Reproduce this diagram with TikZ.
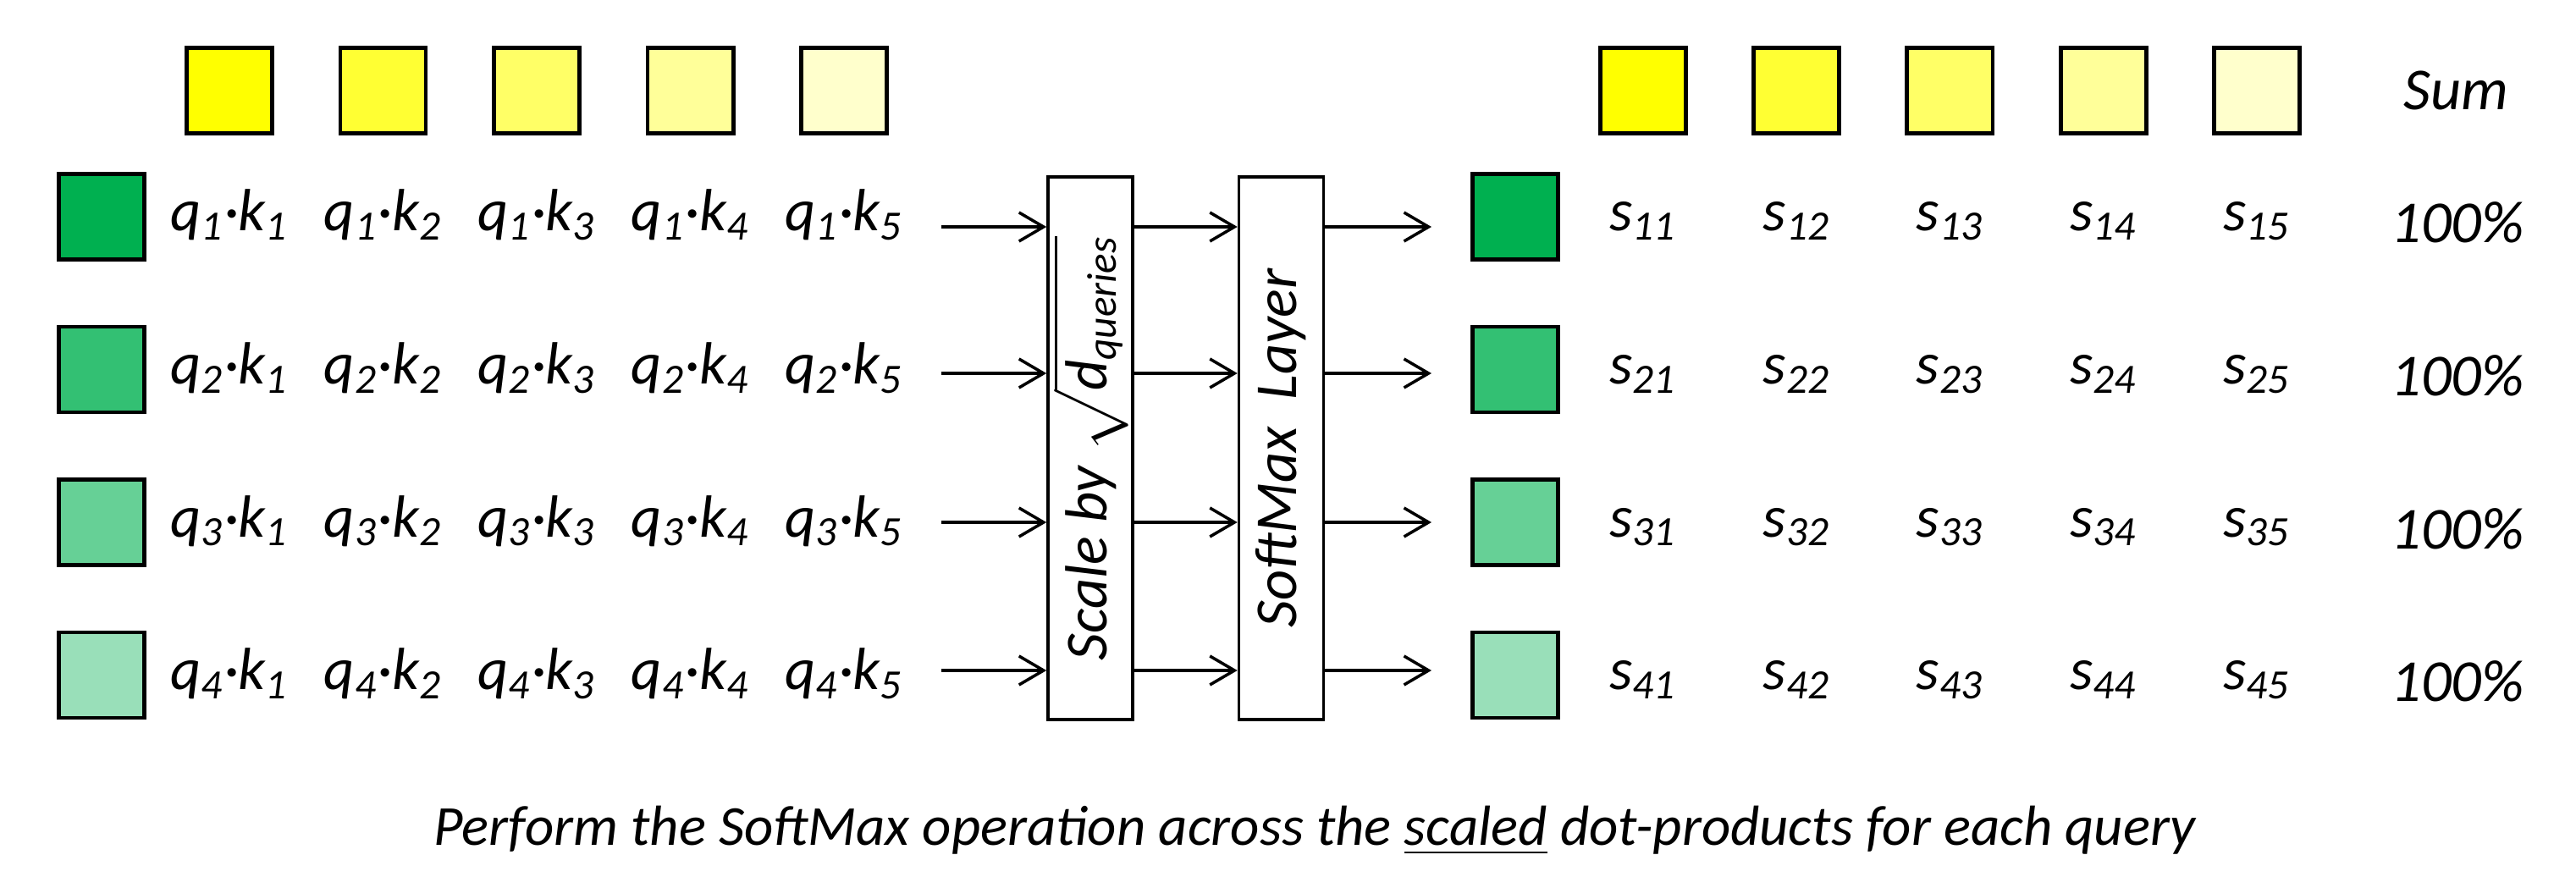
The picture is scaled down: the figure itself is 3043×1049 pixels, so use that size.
\documentclass[tikz,border=0pt]{standalone}
\usepackage{amsmath}
\usepackage{fontspec}
\setmainfont{Carlito}
\usepackage{tikz}
\usetikzlibrary{arrows.meta}
\usetikzlibrary{positioning}
\definecolor{grn1}{HTML}{00B050}
\definecolor{grn2}{HTML}{33C073}
\definecolor{grn3}{HTML}{66D096}
\definecolor{grn4}{HTML}{99DFB9}
\definecolor{yel1}{HTML}{FFFF00}
\definecolor{yel2}{HTML}{FFFF33}
\definecolor{yel3}{HTML}{FFFF66}
\definecolor{yel4}{HTML}{FFFF99}
\definecolor{yel5}{HTML}{FFFFCC}
\tikzset{
  cell/.style = {draw=black, line width=1.4pt, minimum size=1.01cm,
    inner sep=0pt},% case couleur
  lbl/.style = {font=\fontsize{20}{24}\selectfont\itshape, anchor=base,
    inner sep=0pt},% texte
  layer/.style = {draw=black, line width=1pt, minimum width=6.41cm,
    minimum height=1cm, inner sep=0pt, font=\fontsize{20}{24}\selectfont\itshape}% boite (tournee)
}

\begin{document}
\begin{tikzpicture}[x=0.01cm,y=-0.01cm,>={Straight Barb[length=0.29cm,width=0.34cm]},
  line width=1pt]
\useasboundingbox (0,0) rectangle (3043,1049);

% keys
\foreach \j/\c in {1/yel1,2/yel2,3/yel3,4/yel4,5/yel5}{
  \node [cell, fill=\c] (kl\j) at ({271+(\j-1)*181.5},107) {};
  \node [cell, fill=\c] (kr\j) at ({1941+(\j-1)*181.2},107) {};
}
\node [lbl] (sum) at (2901,130) {Sum};

% queries and scores
\foreach \r/\c in {1/grn1,2/grn2,3/grn3,4/grn4}{
  \node [cell, fill=\c] (ql\r) at (120,{256+(\r-1)*180.5}) {};
  \node [cell, fill=\c] (qr\r) at (1790,{256+(\r-1)*180.5}) {};
  \foreach \j in {1,...,5}{
    \node [lbl] (dot\r\j) at ({271+(\j-1)*181.5},{273+(\r-1)*180.5})
      {q\textsubscript{\r}·k\textsubscript{\j}};
    \node [lbl] (s\r\j) at ({1941+(\j-1)*181.2},{273+(\r-1)*180.5})
      {s\textsubscript{\r\j}};
  }
  \node [lbl] (pct\r) at (2903,{287+(\r-1)*180.5}) {100\%};
}

% rotated boxes: north = left side, south = right side
\node [layer, rotate=90] (scale) at (1288,529.5)
  {Scale by $\sqrt{\text{\itshape d}_{\text{\itshape queries}}}$};
\node [layer, rotate=90] (soft) at (1513.5,529.5) {SoftMax\ \ Layer};

\foreach \r/\y in {1/268,2/441,3/617,4/792}{
  \coordinate (in\r) at (1112,\y);
  \coordinate (out\r) at (1691,\y);
  \draw [->] (in\r) -- (in\r -| scale.north);
  \draw [->] (in\r -| scale.south) -- (in\r -| soft.north);
  \draw [->] (in\r -| soft.south) -- (out\r);
}

\node [lbl, font=\fontsize{19}{23}\selectfont\itshape] (caption) at (1553,998)
  {Perform the SoftMax operation across the \underline{scaled} dot-products for each query};
\end{tikzpicture}
\end{document}
